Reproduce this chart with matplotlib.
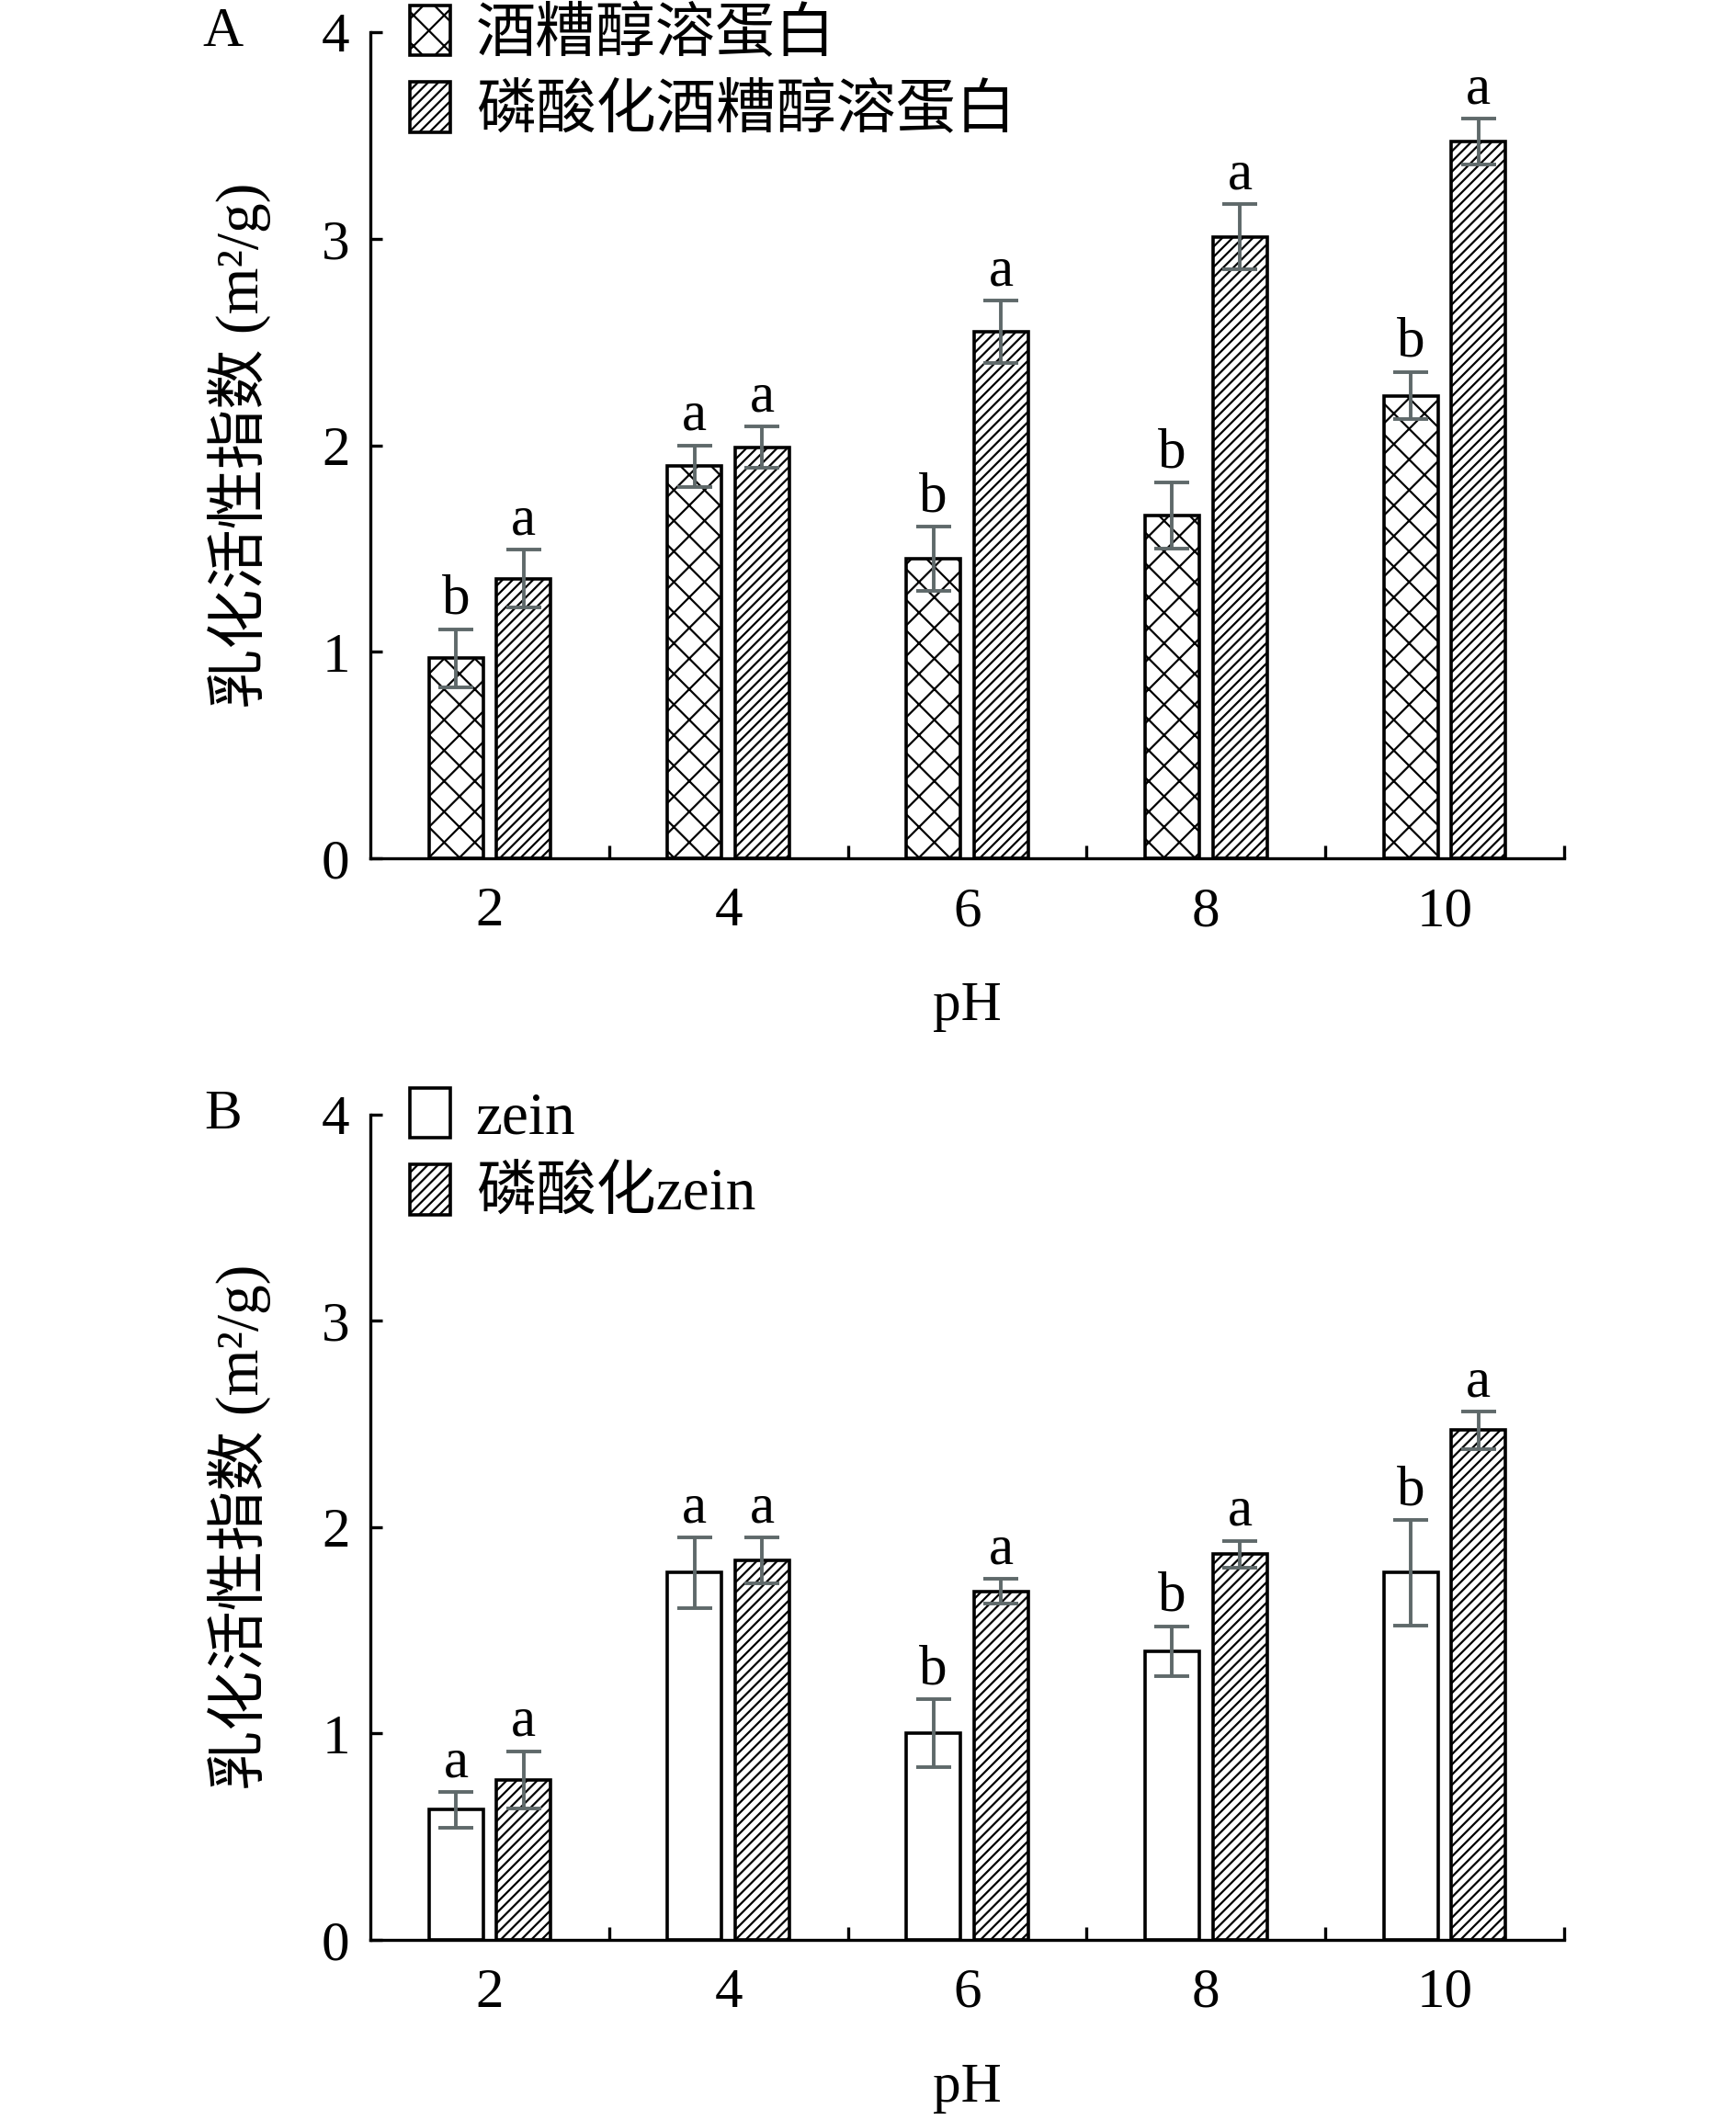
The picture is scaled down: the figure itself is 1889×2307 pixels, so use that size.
import matplotlib
matplotlib.use("Agg")
import matplotlib.pyplot as plt
import numpy as np

plt.rcParams['font.family'] = ['Liberation Serif', 'Noto Sans CJK SC']
plt.rcParams['hatch.linewidth'] = 1.6

# --- data ---
ph = ['2', '4', '6', '8', '10']

# panel A
a_names = ['酒糟醇溶蛋白', '磷酸化酒糟醇溶蛋白']
a_native = [0.97, 1.90, 1.45, 1.66, 2.24]
a_native_err = [0.14, 0.10, 0.155, 0.16, 0.115]
a_phos = [1.355, 1.99, 2.55, 3.01, 3.47]
a_phos_err = [0.14, 0.10, 0.15, 0.157, 0.11]
a_native_lab = ['b', 'a', 'b', 'b', 'b']
a_phos_lab = ['a', 'a', 'a', 'a', 'a']

# panel B
b_names = ['zein', '磷酸化zein']
b_native = [0.63, 1.78, 1.00, 1.40, 1.78]
b_native_err = [0.085, 0.17, 0.165, 0.12, 0.255]
b_phos = [0.775, 1.84, 1.69, 1.87, 2.47]
b_phos_err = [0.14, 0.11, 0.06, 0.065, 0.09]
b_native_lab = ['a', 'a', 'b', 'b', 'b']
b_phos_lab = ['a', 'a', 'a', 'a', 'a']

FS = 44
ERRC = '#5f696a'

fig = plt.figure(figsize=(18.9, 23.07), dpi=100)


def panel(rect, names, v1, e1, v2, e2, l1, l2, hatch1, letter):
    ax = fig.add_axes(rect)
    x = np.arange(len(ph)) + 0.5
    w = 0.227
    off = 0.1416
    b1 = ax.bar(x - off, v1, w, facecolor='white', edgecolor='black',
                linewidth=2.6, hatch=hatch1, label=names[0], zorder=2)
    b2 = ax.bar(x + off, v2, w, facecolor='white', edgecolor='black',
                linewidth=2.6, hatch='///', label=names[1], zorder=2)
    for xs, v, e in [(x - off, v1, e1), (x + off, v2, e2)]:
        ax.errorbar(xs, v, yerr=e, fmt='none', ecolor=ERRC, elinewidth=2.8,
                    capsize=14, capthick=2.8, zorder=3)
    for xs, v, e, labs in [(x - off, v1, e1, l1), (x + off, v2, e2, l2)]:
        for xi, vi, ei, t in zip(xs, v, e, labs):
            ax.text(xi, vi + ei + 0.075, t, ha='center', va='baseline',
                    fontsize=FS)

    ax.set_xlim(0, 5)
    ax.set_ylim(0, 4)
    ax.set_yticks([0, 1, 2, 3, 4])
    ax.set_xticks(x)
    ax.set_xticklabels(ph)
    ax.set_xticks([1, 2, 3, 4, 5], minor=True)
    for s in ['top', 'right']:
        ax.spines[s].set_visible(False)
    for s in ['left', 'bottom']:
        ax.spines[s].set_linewidth(2.4)
    ax.tick_params(axis='y', direction='in', length=9, width=2.4,
                   labelsize=FS, pad=16)
    ax.tick_params(axis='x', which='major', length=0, labelsize=FS, pad=22)
    ax.tick_params(axis='x', which='minor', direction='in', length=10,
                   width=2.4)
    ax.set_ylabel('乳化活性指数 (m²/g)', fontsize=47, labelpad=40)
    ax.set_xlabel('pH', fontsize=FS, labelpad=34)

    leg = ax.legend(handles=[b1, b2], loc='upper left',
                    bbox_to_anchor=(0.033, 1.032), frameon=False,
                    fontsize=47, handlelength=0.68, handleheight=0.9,
                    handletextpad=0.42, labelspacing=0.3, borderpad=0,
                    borderaxespad=0)
    for h in leg.legend_handles:
        h.set_linewidth(2.6)

    pos = ax.get_position()
    fig.text(243 / 1890, pos.y1 + 0.0, letter, fontsize=FS,
             ha='center', va='center')
    return ax


panel([0.2132, 0.5951, 0.6873, 0.3897], a_names, a_native, a_native_err,
      a_phos, a_phos_err, a_native_lab, a_phos_lab, 'x', 'A')
panel([0.2132, 0.0850, 0.6873, 0.3892], b_names, b_native, b_native_err,
      b_phos, b_phos_err, b_native_lab, b_phos_lab, '', 'B')

fig.savefig('out.png', dpi=100)
